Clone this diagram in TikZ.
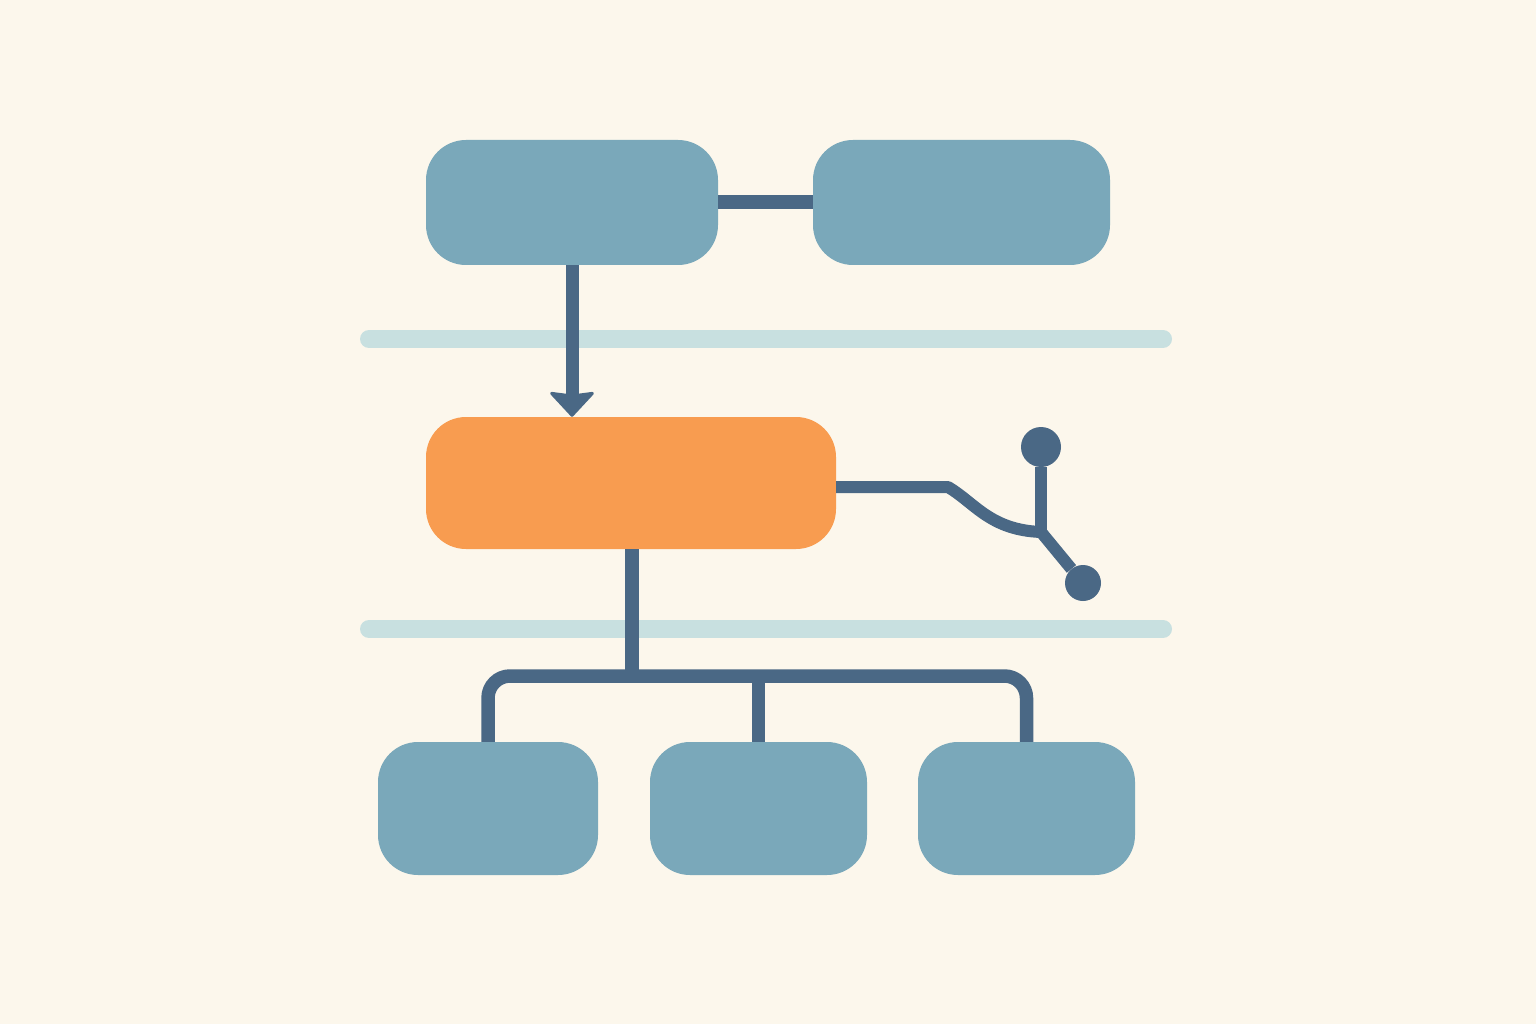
\documentclass[tikz,border=0pt]{standalone}
\usetikzlibrary{arrows.meta}
\definecolor{bgc}{HTML}{FCF7EC}
\definecolor{boxblue}{HTML}{7AA8BA}
\definecolor{boxorange}{HTML}{F89C50}
\definecolor{linec}{HTML}{4A6885}
\definecolor{barc}{HTML}{C8E0E0}
\begin{document}
\begin{tikzpicture}[x=1pt,y=-1pt,
  bluebox/.style={fill=boxblue,rounded corners=40pt,inner sep=0pt,minimum height=125pt},
  orangebox/.style={fill=boxorange,rounded corners=40pt,inner sep=0pt,minimum width=410pt,minimum height=132pt},
  conn/.style={draw=linec,line width=13.5pt,line join=round},
  lightbar/.style={draw=barc,line width=18pt,line cap=round},
  dotend/.style={circle,fill=linec,inner sep=0pt}
]
\fill[bgc] (0,0) rectangle (1536,1024);
\useasboundingbox (0,0) rectangle (1536,1024);
% light bars
\draw[lightbar] (369,339) -- (1163,339);
\draw[lightbar] (369,629) -- (1163,629);
% boxes
\node[bluebox,minimum width=292pt] (tl) at (572,202.5) {};
\node[bluebox,minimum width=297pt] (tr) at (961.5,202.5) {};
\node[orangebox] (or) at (631,483) {};
\node[bluebox,minimum width=220pt,minimum height=133pt] (b1) at (488,808.5) {};
\node[bluebox,minimum width=217pt,minimum height=133pt] (b2) at (758.5,808.5) {};
\node[bluebox,minimum width=217pt,minimum height=133pt] (b3) at (1026.5,808.5) {};
% connectors
\draw[conn,line width=14pt] (tl.east) -- (tr.west);
\draw[conn,line width=13pt,-{Triangle[width=48pt,length=26pt,inset=3pt,line width=3pt,round]}] (tl.south -| 572,0) -- (or.north -| 572,0);
\coordinate (bus) at (632,676);
\draw[conn] (or.south -| bus) -- (bus);
\draw[conn,rounded corners=22pt] (b1.north) |- (bus) -| (b3.north);
\draw[conn] (b2.north) -- (b2.north |- bus);
% right branch
\node[dotend,minimum size=40pt] (d1) at (1041,447) {};
\node[dotend,minimum size=36pt] (d2) at (1083,583) {};
\coordinate (junc) at (1041,532);
\draw[conn,line width=12pt] (or.east |- 0,487) -- (948,487) .. controls (975,503) and (990,530) .. (junc);
\draw[conn,line width=12pt] (junc) -- (d1);
\draw[conn,line width=12pt] (junc) -- (d2);
\end{tikzpicture}
\end{document}
